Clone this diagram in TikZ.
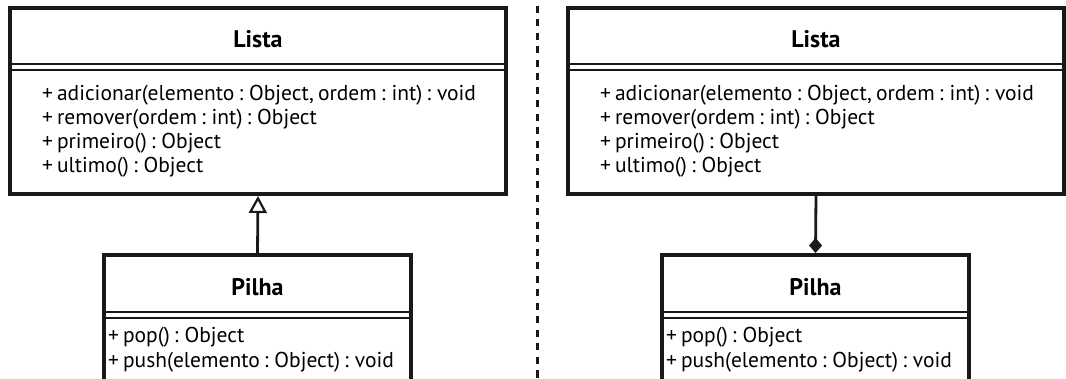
\documentclass[tikz,border=0pt]{standalone}
\usepackage{fontspec}
\setmainfont{PT Sans}[WordSpace=0.7]
\usetikzlibrary{arrows.meta}
\tikzset{
  classbox/.style={draw=black!90, line width=4pt, fill=white, inner sep=0pt, minimum width=496pt, minimum height=186pt},
  subbox/.style={draw=black!90, line width=4pt, fill=white, inner sep=0pt, minimum width=307pt, minimum height=160pt},
  sep/.style={draw=black!90, line width=2pt},
  title/.style={font=\fontsize{24}{24}\selectfont\bfseries, anchor=base, inner sep=0pt},
  member/.style={font=\fontsize{21.5}{24}\selectfont, anchor=base west, inner sep=0pt},
  conn/.style={draw=black!90, line width=2.8pt},
  divider/.style={draw=black!90, line width=3pt, dash pattern=on 7pt off 6.5pt},
  gentip/.tip={Triangle[open, length=17pt 0 0, width=18pt 0 0, line width=2.2pt 0]},
  comptip/.tip={Diamond[length=15pt 0 0, width=13pt 0 0]}
}
\begin{document}
\begin{tikzpicture}[x=1pt, y=-1pt]
\useasboundingbox (0,0) rectangle (1066,379);
\begin{scope}
\clip (0,0) rectangle (1066,379);
% left side
\node[classbox] (lista1) at (258,101) {};
\draw[sep] (10,64) -- (506,64);
\draw[sep] (10,70) -- (506,70);
\node[title] (lt1) at (258,48) {Lista};
\node[member] (l1a) at (42,101) {+ adicionar(elemento : Object, ordem : int) : void};
\node[member] (l1b) at (42,125) {+ remover(ordem : int) : Object};
\node[member] (l1c) at (42,149) {+ primeiro() : Object};
\node[member] (l1d) at (42,173) {+ ultimo() : Object};

\node[subbox] (pilha1) at (257.5,335) {};
\draw[sep] (104,312) -- (411,312);
\draw[sep] (104,318) -- (411,318);
\node[title] (pt1) at (257.5,296) {Pilha};
\node[member] (p1a) at (108,343) {+ pop() : Object};
\node[member] (p1b) at (108,367) {+ push(elemento : Object) : void};

\draw[conn, -gentip] (pilha1.north) -- (lista1.south);

% divider
\coordinate (dtop) at (537.5,6);
\coordinate (dbot) at (537.5,385);
\draw[divider] (dtop) -- (dbot);

% right side
\node[classbox] (lista2) at (816,101) {};
\draw[sep] (568,64) -- (1064,64);
\draw[sep] (568,70) -- (1064,70);
\node[title] (lt2) at (816,48) {Lista};
\node[member] (l2a) at (600,101) {+ adicionar(elemento : Object, ordem : int) : void};
\node[member] (l2b) at (600,125) {+ remover(ordem : int) : Object};
\node[member] (l2c) at (600,149) {+ primeiro() : Object};
\node[member] (l2d) at (600,173) {+ ultimo() : Object};

\node[subbox] (pilha2) at (815.5,335) {};
\draw[sep] (662,312) -- (969,312);
\draw[sep] (662,318) -- (969,318);
\node[title] (pt2) at (815.5,296) {Pilha};
\node[member] (p2a) at (666,343) {+ pop() : Object};
\node[member] (p2b) at (666,367) {+ push(elemento : Object) : void};

\draw[conn, -comptip] (lista2.south) -- (pilha2.north);
\end{scope}
\end{tikzpicture}
\end{document}
